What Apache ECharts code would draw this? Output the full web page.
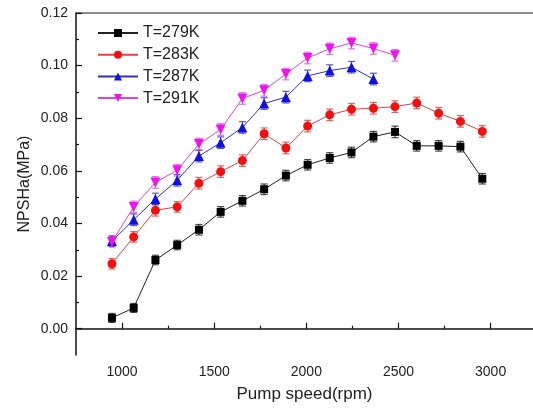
<!DOCTYPE html>
<html><head><meta charset="utf-8">
<script src="https://cdn.jsdelivr.net/npm/echarts@6/dist/echarts.min.js"></script>
<style>html,body{margin:0;padding:0;background:#fff}#c{width:533px;height:409px}</style>
</head><body><div id="c"></div>
<script>
// Pump speed (rpm)
const speeds = [945,1063,1181,1299,1417,1535,1653,1771,1889,2007,2127,2245,2364,2481,2599,2718,2836,2955];
// NPSHa (MPa)
const npsh279 = [0.0041,0.0079,0.0261,0.0318,0.0376,0.0444,0.0486,0.0530,0.0582,0.0623,0.0649,0.0670,0.0730,0.0748,0.0695,0.0695,0.0692,0.0570];
const npsh283 = [0.0247,0.0349,0.0450,0.0463,0.0553,0.0597,0.0639,0.0741,0.0687,0.0770,0.0813,0.0834,0.0838,0.0844,0.0858,0.0819,0.0788,0.0750];
const npsh287 = [0.0333,0.0414,0.0493,0.0564,0.0656,0.0707,0.0765,0.0856,0.0880,0.0961,0.0981,0.0994,0.0949];
const npsh291 = [0.0330,0.0463,0.0556,0.0602,0.0702,0.0757,0.0875,0.0906,0.0968,0.1029,0.1064,0.1086,0.1065,0.1039];
// error (+/- MPa)
const err279 = [0.0017,0.0017,0.0018,0.0018,0.0020,0.0020,0.0020,0.0020,0.0020,0.0020,0.0020,0.0020,0.0020,0.0022,0.0020,0.0020,0.0020,0.0020];
const err283 = [0.0020,0.0020,0.0022,0.0020,0.0022,0.0022,0.0022,0.0022,0.0022,0.0022,0.0022,0.0022,0.0022,0.0022,0.0022,0.0022,0.0022,0.0022];
const err287 = [0.0020,0.0022,0.0022,0.0022,0.0022,0.0022,0.0022,0.0022,0.0022,0.0022,0.0022,0.0022,0.0022];
const err291 = [0.0020,0.0022,0.0022,0.0022,0.0022,0.0022,0.0022,0.0022,0.0022,0.0022,0.0022,0.0022,0.0022,0.0022];
const names = ['T=279K','T=283K','T=287K','T=291K'];
const xMajor = [1000,1500,2000,2500,3000];
const xMinor = [1250,1750,2250,2750];
const yMajor = [0,0.02,0.04,0.06,0.08,0.10,0.12];
const yMinor = [0.01,0.03,0.05,0.07,0.09,0.11];

const colors = ['#000000','#f01010','#1010e0','#f010f0'];
const lineColors = ['#222222','#e04040','#3030c0','#e040e0'];
const barColors = ['rgba(0,0,0,0.7)','rgba(220,20,20,0.65)','rgba(20,20,200,0.7)','rgba(220,20,220,0.6)'];
const symbols = ['rect','circle','triangle','triangle'];
const symRot = [0,0,0,180];
const symSize = [8,9,10,10];
const ys = [npsh279,npsh283,npsh287,npsh291];
const errs = [err279,err283,err287,err291];
const FONT = 'Liberation Sans, Arial, sans-serif';

const series = [];
ys.forEach((arr,i)=>{
  series.push({
    type:'custom', name:names[i]+'_err', xAxisIndex:0, yAxisIndex:0, z:2, silent:true,
    data: arr.map((v,k)=>[speeds[k],v,errs[i][k]]),
    encode:{x:0,y:1},
    renderItem:function(params,api){
      const x=api.value(0), y=api.value(1), e=api.value(2);
      const t=api.coord([x,y+e]), b=api.coord([x,y-e]);
      const w=3.5;
      const st={stroke:barColors[i],lineWidth:1.2};
      return {type:'group',children:[
        {type:'line',shape:{x1:t[0],y1:t[1],x2:b[0],y2:b[1]},style:st},
        {type:'line',shape:{x1:t[0]-w,y1:t[1],x2:t[0]+w,y2:t[1]},style:st},
        {type:'line',shape:{x1:b[0]-w,y1:b[1],x2:b[0]+w,y2:b[1]},style:st}
      ]};
    }
  });
});
ys.forEach((arr,i)=>{
  series.push({
    type:'line', name:names[i], xAxisIndex:0, yAxisIndex:0, z:3,
    data: arr.map((v,k)=>[speeds[k],v]),
    symbol:symbols[i], symbolSize:symSize[i], symbolRotate:symRot[i],
    itemStyle:{color:colors[i]},
    lineStyle:{color:lineColors[i],width:1},
    emphasis:{disabled:true}, animation:false
  });
});

const chart = echarts.init(document.getElementById('c'),null,{renderer:'canvas'});
chart.setOption({
  animation:false,
  backgroundColor:'#fff',
  textStyle:{fontFamily:FONT},
  grid:{left:76,top:13,right:0,bottom:54,containLabel:false},
  legend:{
    data:names, orient:'vertical', left:97, top:25, padding:0,
    itemWidth:40, itemHeight:10, itemGap:5.7,
    textStyle:{fontFamily:FONT,fontSize:16,color:'#222',lineHeight:16}
  },
  xAxis:[
    {type:'value',position:'bottom',min:750,max:3230,
     name:'Pump speed(rpm)',nameLocation:'middle',nameGap:31,
     nameTextStyle:{fontFamily:FONT,fontSize:17,color:'#222'},
     axisLine:{show:true,lineStyle:{color:'#111',width:1.5}},
     axisTick:{show:true,inside:true,length:6,customValues:xMajor,lineStyle:{color:'#111',width:1.2}},
     axisLabel:{customValues:xMajor,margin:10,fontFamily:FONT,fontSize:14,color:'#222',
       formatter:v=>String(v)},
     splitLine:{show:false}},
    {type:'value',position:'bottom',min:750,max:3230,
     axisLine:{show:false},
     axisTick:{show:true,inside:true,length:3,customValues:xMinor,lineStyle:{color:'#111',width:1.2}},
     axisLabel:{show:false},splitLine:{show:false}},
    {type:'value',position:'top',min:750,max:3230,
     axisLine:{show:true,lineStyle:{color:'#666',width:1.5}},
     axisTick:{show:false},axisLabel:{show:false},splitLine:{show:false}}
  ],
  yAxis:[
    {type:'value',position:'left',min:-0.01,max:0.12,
     name:'NPSHa(MPa)',nameLocation:'middle',nameGap:43,nameMoveOverlap:false,
     nameTextStyle:{fontFamily:FONT,fontSize:16,color:'#222'},
     axisLine:{show:true,lineStyle:{color:'#111',width:1.5}},
     axisTick:{show:true,inside:true,length:6,customValues:yMajor,lineStyle:{color:'#111',width:1.2}},
     axisLabel:{customValues:yMajor,margin:8,fontFamily:FONT,fontSize:14,color:'#222',
       formatter:v=>v.toFixed(2)},
     splitLine:{show:false}},
    {type:'value',position:'left',min:-0.01,max:0.12,
     axisLine:{show:false},
     axisTick:{show:true,inside:true,length:3,customValues:yMinor,lineStyle:{color:'#111',width:1.2}},
     axisLabel:{show:false},splitLine:{show:false}}
  ],
  series:series
});
</script>
</body></html>
